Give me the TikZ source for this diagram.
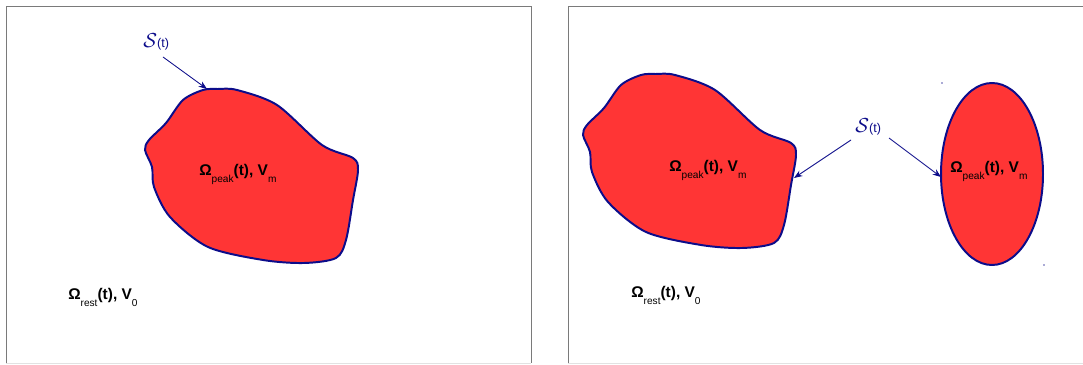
\documentclass[tikz,border=0pt]{standalone}
\usepackage{fontspec}
\setmainfont{Liberation Sans}
\usepackage{tikz}
\usetikzlibrary{arrows.meta,positioning,calc}

\definecolor{peakred}{HTML}{FF3535}
\definecolor{bordnavy}{HTML}{0C0C8A}
\definecolor{framegray}{HTML}{7A7A7A}
\definecolor{edgegray}{HTML}{E2E2E2}
\newcommand{\lowsub}[1]{\raisebox{-0.75ex}{\fontsize{7.2}{7.2}\selectfont\mdseries #1}}
\tikzset{
  region/.style={fill=peakred,draw=bordnavy,line width=1.4pt},
  domlabel/.style={font=\fontsize{11}{13}\selectfont\bfseries,inner sep=0pt,anchor=base west},
  surflabel/.style={text=bordnavy,inner sep=0pt,anchor=base west},
  surfarrow/.style={draw=bordnavy,line width=0.6pt,-{Stealth[length=6pt,width=4.5pt]}},
  blob/.pic={
    \draw[region] plot[smooth cycle,tension=0.5] coordinates{
      (203,90) (218,89) (237,90) (277,105) (322,145) (353,158) (358,170) (353,200)
      (346,240) (336,258) (304,263) (263,260) (208,247) (170,217) (154,187)
      (152,167) (145,150) (149,140) (166,123) (183,100)};
    \fill[bordnavy] (237,90) circle (1.2);
  },
}

\begin{document}
\begin{tikzpicture}[x=0.025cm,y=-0.025cm]
  \useasboundingbox (0,0) rectangle (1083,365);
  \draw[framegray,line width=0.7pt] (6,363) -- (6,6) -- (531,6) -- (531,363); % 左の枠
  \draw[edgegray,line width=0.7pt] (6,363) -- (531,363); % 左の枠の下辺
  \draw[framegray,line width=0.7pt] (568,363) -- (568,6) -- (1090,6); % 右の枠
  \draw[edgegray,line width=0.7pt] (568,363) -- (1083,363); % 右の枠の下辺

  % 左：ひとつの領域
  \pic at (0,0) {blob};
  \node[domlabel] (peakL) at (199,176) {Ω\lowsub{peak}(t), V\lowsub{m}};
  \node[domlabel] (restL) at (68,300) {Ω\lowsub{rest}(t), V\lowsub{0}};
  \node[surflabel] (surfL) at (143,48) {\fontsize{15}{15}\selectfont$\mathcal{S}$\fontsize{9}{9}\selectfont(t)};
  \coordinate (tailL) at (163,57);
  \coordinate (hitL) at (207,89);
  \draw[surfarrow] (tailL) -- (hitL); % 界面を指す矢印

  % 右：ふたつの領域
  \pic at (438,-15) {blob};
  \draw[region] (992,174) ellipse [x radius=51, y radius=91]; % 楕円の領域
  \fill[bordnavy!70] (942,83) circle (0.8); % 選択枠の点
  \fill[bordnavy!70] (1044,265) circle (0.8); % 選択枠の点
  \node[domlabel] (peakR) at (669,172) {Ω\lowsub{peak}(t), V\lowsub{m}};
  \node[domlabel] (peakE) at (950,173) {Ω\lowsub{peak}(t), V\lowsub{m}};
  \node[domlabel] (restR) at (631,298) {Ω\lowsub{rest}(t), V\lowsub{0}};
  \node[surflabel] (surfR) at (855,133) {\fontsize{15}{15}\selectfont$\mathcal{S}$\fontsize{9}{9}\selectfont(t)};
  \coordinate (tailRa) at (851,140);
  \coordinate (hitRa) at (794,178);
  \coordinate (tailRb) at (889,138);
  \coordinate (hitRb) at (941,177);
  \draw[surfarrow] (tailRa) -- (hitRa); % 左の領域へ
  \draw[surfarrow] (tailRb) -- (hitRb); % 楕円へ
\end{tikzpicture}
\end{document}
